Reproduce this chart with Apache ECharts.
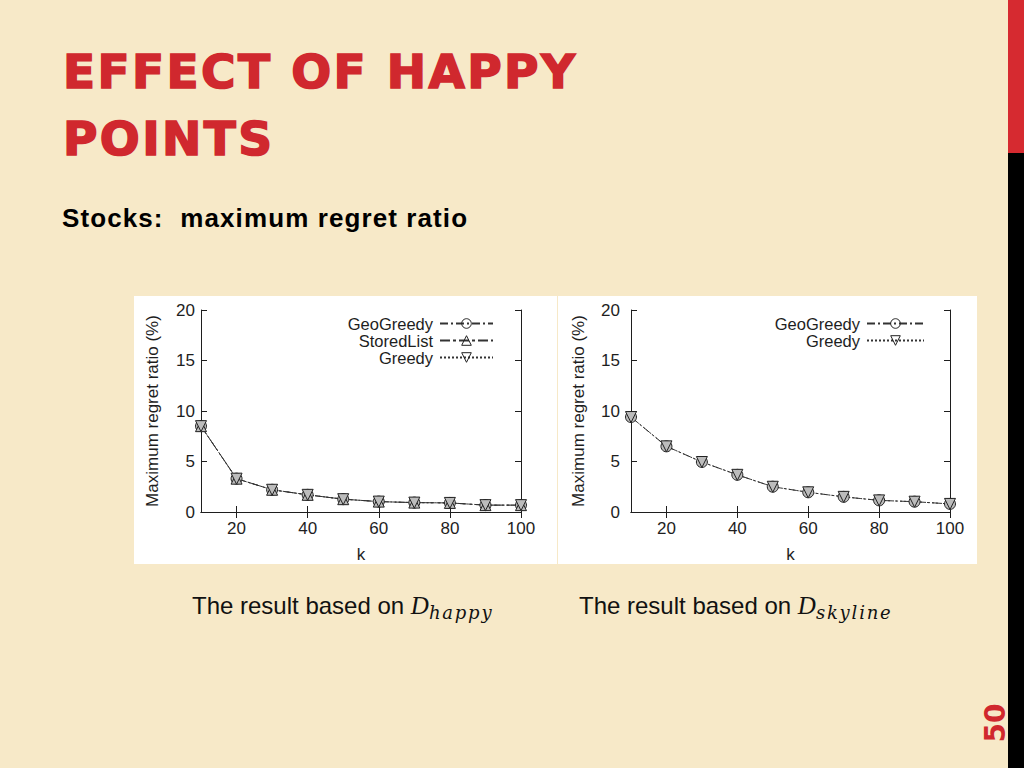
<!DOCTYPE html>
<html>
<head>
<meta charset="utf-8">
<script src="https://cdn.jsdelivr.net/npm/echarts@6/dist/echarts.min.js"></script>
<style>
  html, body { margin: 0; padding: 0; }
  body {
    width: 1024px; height: 768px; overflow: hidden; position: relative;
    background: #f7e9c8;
    font-family: "Liberation Sans", Arial, sans-serif;
  }
  .title {
    position: absolute; left: 63px; top: 38px;
    font-family: "DejaVu Sans", sans-serif; font-weight: bold;
    font-size: 47px; line-height: 67px; letter-spacing: 2.4px;
    -webkit-text-stroke: 1.6px #d0282e;
    color: #d0282e; white-space: nowrap;
  }
  .subtitle {
    position: absolute; left: 62px; top: 203px;
    font-family: "Liberation Sans", Arial, sans-serif; font-weight: bold;
    font-size: 26px; line-height: 30px; letter-spacing: 1.1px;
    color: #000; white-space: pre;
  }
  .panel { position: absolute; background: #fff; }
  .caption {
    position: absolute; top: 591px;
    font-family: "Liberation Sans", Arial, sans-serif;
    font-size: 24px; line-height: 30px; color: #111; white-space: pre;
  }
  .caption .m { font-family: "Liberation Serif", serif; font-style: italic; font-size: 25px; }
  .caption sub { font-family: "DejaVu Serif", serif; font-style: italic; font-size: 18px; letter-spacing: 1.8px; vertical-align: -5px; line-height: 0; }
  .barRed { position: absolute; left: 1008px; top: 0; width: 16px; height: 153px; background: #d62a30; }
  .barBlack { position: absolute; left: 1008px; top: 153px; width: 16px; height: 615px; background: #000; }
  .pnum {
    position: absolute; left: 996px; top: 723px;
    transform: translate(-50%, -50%) rotate(-90deg);
    font-family: "DejaVu Sans", sans-serif; font-weight: bold; font-size: 28px;
    color: #d0282e; line-height: 28px;
  }
</style>
</head>
<body>
<div class="title">EFFECT OF HAPPY<br>POINTS</div>
<div class="subtitle">Stocks:  maximum regret ratio</div>
<div id="c1" class="panel" style="left:134px; top:296px; width:423px; height:268px;"></div>
<div id="c2" class="panel" style="left:558px; top:296px; width:419px; height:268px;"></div>
<div class="caption" style="left:192px;">The result based on <span class="m">D</span><sub>happy</sub></div>
<div class="caption" style="left:579px;">The result based on <span class="m">D</span><sub>skyline</sub></div>
<div class="barRed"></div>
<div class="barBlack"></div>
<div class="pnum">50</div>
<script>
// ---- data ----
const kValues = [10, 20, 30, 40, 50, 60, 70, 80, 90, 100];
const xTicks = [20, 40, 60, 80, 100];
const happyGeoGreedy  = [8.5, 3.3, 2.2, 1.7, 1.27, 1.03, 0.93, 0.9, 0.68, 0.68];
const happyStoredList = [8.5, 3.3, 2.2, 1.7, 1.27, 1.03, 0.93, 0.9, 0.68, 0.68];
const happyGreedy     = [8.5, 3.3, 2.2, 1.7, 1.27, 1.03, 0.93, 0.9, 0.68, 0.68];
const skyGeoGreedy = [9.4, 6.5, 4.95, 3.68, 2.5, 1.95, 1.5, 1.15, 1.02, 0.8];
const skyGreedy    = [9.4, 6.5, 4.95, 3.68, 2.5, 1.95, 1.5, 1.15, 1.02, 0.8];
const yName = 'Maximum regret ratio (%)';
const xName = 'k';

const FONT = '"Liberation Sans", Arial, sans-serif';
const INK = '#1e1e1e';
const downTri = 'path://M0,0 L10,0 L5,8.66 Z';
const styles = {
  GeoGreedy:  { symbol: 'circle',   dash: [8, 3, 2, 3] },
  StoredList: { symbol: 'triangle', dash: [10, 3, 3, 3] },
  Greedy:     { symbol: downTri,    dash: [2, 2] }
};

function pairs(vals) { return kValues.map((k, i) => [k, vals[i]]); }

function makeSeries(name, vals) {
  const st = styles[name];
  return {
    name: name, type: 'line', data: pairs(vals),
    symbol: st.symbol, symbolSize: 11,
    lineStyle: { color: '#333', width: 1, type: st.dash },
    itemStyle: { color: '#bcbcbc', borderColor: '#222', borderWidth: 1 },
    emphasis: { disabled: true }, animation: false
  };
}

function makeOption(cfg) {
  const axisLine = { show: true, lineStyle: { color: INK, width: 1 } };
  const tick = { show: true, inside: true, length: 6, lineStyle: { color: INK } };
  return {
    animation: false,
    grid: Object.assign({ outerBoundsMode: 'none', containLabel: false }, cfg.grid),
    legend: {
      orient: 'vertical', right: cfg.legendRight, top: 14, align: 'right',
      itemWidth: cfg.legendW, itemHeight: 12, itemGap: 0,
      textStyle: { fontFamily: FONT, fontSize: 16.5, color: INK, padding: [0, 2, 0, 0] },
      itemStyle: { color: 'rgba(255,255,255,0)', borderColor: '#222', borderWidth: 1 },
      selectedMode: false
    },
    xAxis: [{
      type: 'value', min: 10, max: 100, position: 'bottom',
      name: xName, nameLocation: 'middle', nameGap: 34,
      nameTextStyle: { fontFamily: FONT, fontSize: 17, color: INK },
      axisLine: axisLine,
      axisTick: Object.assign({ customValues: xTicks }, tick),
      axisLabel: { customValues: xTicks, margin: 8, fontFamily: FONT, fontSize: 17, color: INK },
      splitLine: { show: false }
    }, {
      type: 'value', min: 10, max: 100, position: 'top',
      axisLine: axisLine,
      axisTick: Object.assign({ customValues: xTicks }, tick),
      axisLabel: { show: false }, splitLine: { show: false }
    }],
    yAxis: [{
      type: 'value', min: 0, max: 20, interval: 5, position: 'left',
      name: yName, nameLocation: 'middle', nameGap: cfg.yNameGap, nameRotate: 90,
      nameTextStyle: { fontFamily: FONT, fontSize: 17, color: INK },
      axisLine: axisLine, axisTick: tick,
      axisLabel: { margin: cfg.yLabelMargin, fontFamily: FONT, fontSize: 17, color: INK },
      splitLine: { show: false }
    }, {
      type: 'value', min: 0, max: 20, interval: 5, position: 'right',
      axisLine: axisLine, axisTick: tick,
      axisLabel: { show: false }, splitLine: { show: false }
    }],
    series: cfg.series
  };
}

const c1 = echarts.init(document.getElementById('c1'), null, { renderer: 'svg' });
c1.setOption(makeOption({
  grid: { left: 67, right: 36, top: 14, bottom: 52 },
  legendRight: 58, legendW: 53, yNameGap: 40, yLabelMargin: 6,
  series: [
    makeSeries('GeoGreedy', happyGeoGreedy),
    makeSeries('StoredList', happyStoredList),
    makeSeries('Greedy', happyGreedy)
  ]
}));

const c2 = echarts.init(document.getElementById('c2'), null, { renderer: 'svg' });
c2.setOption(makeOption({
  grid: { left: 73, right: 27, top: 14, bottom: 52 },
  legendRight: 47, legendW: 57, yNameGap: 44, yLabelMargin: 11,
  series: [
    makeSeries('GeoGreedy', skyGeoGreedy),
    makeSeries('Greedy', skyGreedy)
  ]
}));
</script>
</body>
</html>
